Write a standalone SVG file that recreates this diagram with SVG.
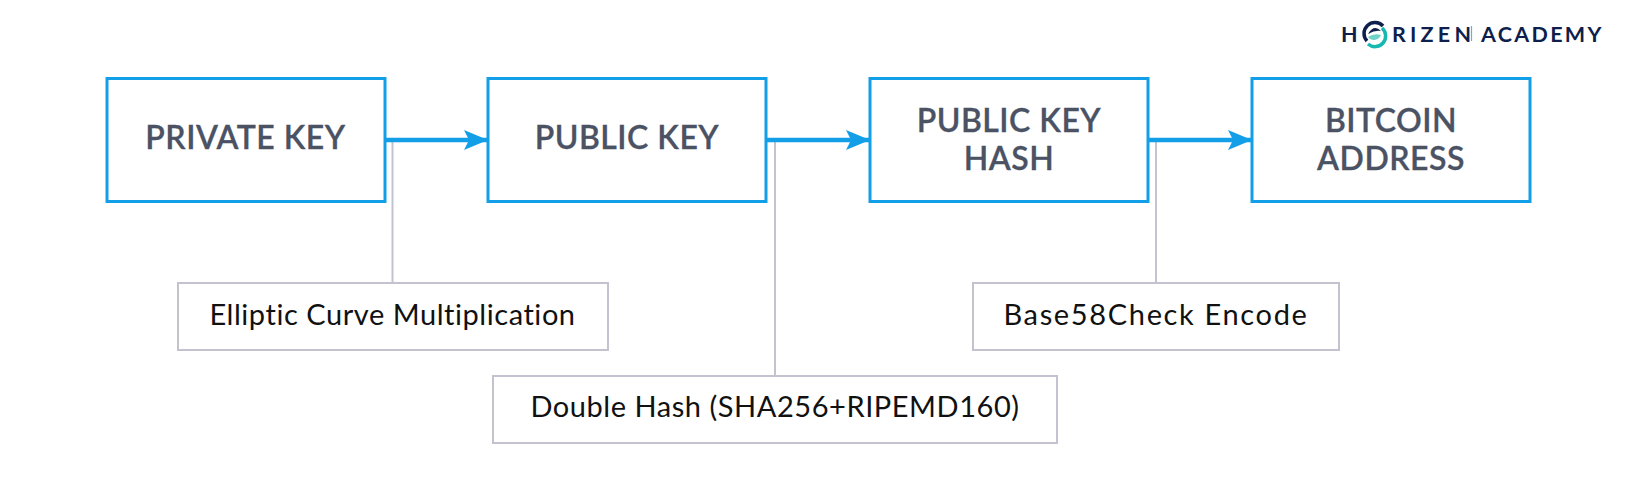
<svg xmlns="http://www.w3.org/2000/svg" width="1637" height="484" viewBox="0 0 1637 484">
<style>
.k{fill:#fff;stroke:#139fe8;stroke-width:3}
.k2{font:600 32px Lato,"Open Sans",sans-serif;fill:#4a5264;text-anchor:middle;letter-spacing:.5px;stroke:#4a5264;stroke-width:.3}
.b{fill:#fff;stroke:#c3c3cf;stroke-width:2}
.t{font:400 29px Lato,"Open Sans",sans-serif;fill:#111;text-anchor:middle;letter-spacing:.55px;font-variant-ligatures:none}
.a{stroke:#139fe8;stroke-width:4.5;fill:none;marker-end:url(#h)}
.l{stroke:#c3c3cf;stroke-width:2;fill:none}
.g{font:700 21.5px Lato,sans-serif;fill:#0e1f4d}
</style>
<defs><marker id="h" markerUnits="userSpaceOnUse" markerWidth="26" markerHeight="22" refX="25" refY="11" orient="auto"><path d="M1 1L25 11L1 21L6 11Z" fill="#139fe8"/></marker></defs>
<rect width="1637" height="484" fill="#fff"/>
<g id="connectors">
<path class="l" d="M392.500 140V283"/><path class="l" d="M775 140V376"/><path class="l" d="M1156 140V283"/>
<path class="a" d="M385 140H488"/><path class="a" d="M767 140H870"/><path class="a" d="M1149 140H1252"/>
</g>
<g id="n1"><rect class="k" x="107" y="78.500" width="278" height="123"/><text class="k2" x="245.500" y="149">PRIVATE KEY</text></g>
<g id="n2"><rect class="k" x="488" y="78.500" width="278" height="123"/><text class="k2" x="627" y="149">PUBLIC KEY</text></g>
<g id="n3"><rect class="k" x="870" y="78.500" width="278" height="123"/><text class="k2" x="1009" y="131.500">PUBLIC KEY</text><text class="k2" x="1009" y="170">HASH</text></g>
<g id="n4"><rect class="k" x="1252" y="78.500" width="278" height="123"/><text class="k2" x="1391" y="131.500">BITCOIN</text><text class="k2" x="1391" y="170">ADDRESS</text></g>
<g id="o1"><rect class="b" x="178" y="283" width="430" height="67"/><text class="t" x="392.500" y="325">Elliptic Curve Multiplication</text></g>
<g id="o2"><rect class="b" x="493" y="376" width="564" height="67"/><text class="t" x="775" y="417">Double Hash (SHA256+RIPEMD160)</text></g>
<g id="o3"><rect class="b" x="973" y="283" width="366" height="67"/><text class="t" x="1156" y="325" style="letter-spacing:1.65px">Base58Check Encode</text></g>
<g id="logo"><text class="g" x="1341" y="41.500">H</text>
<path d="M1367 41A10.500 10.500 0 0 1 1383 26" fill="none" stroke="#0e1f4d" stroke-width="3.500"/>
<path d="M1368 34Q1374 24 1381 31Q1375 30 1368 34Z" fill="#0e1f4d"/>
<path d="M1368 37Q1374 33 1381 35Q1379 40 1373 40Q1370 40 1368 37Z" fill="#6fd3c8"/>
<path d="M1382 28A10.500 10.500 0 0 1 1368 44" fill="none" stroke="#18b8b0" stroke-width="3.500"/>
<text class="g" x="1392" y="41.500" letter-spacing="4.200">RIZEN</text><path d="M1471.500 26V41" stroke="#5fb8c4" stroke-width="1.200"/><text class="g" x="1481" y="41.500" letter-spacing="2.300">ACADEMY</text></g>
</svg>
